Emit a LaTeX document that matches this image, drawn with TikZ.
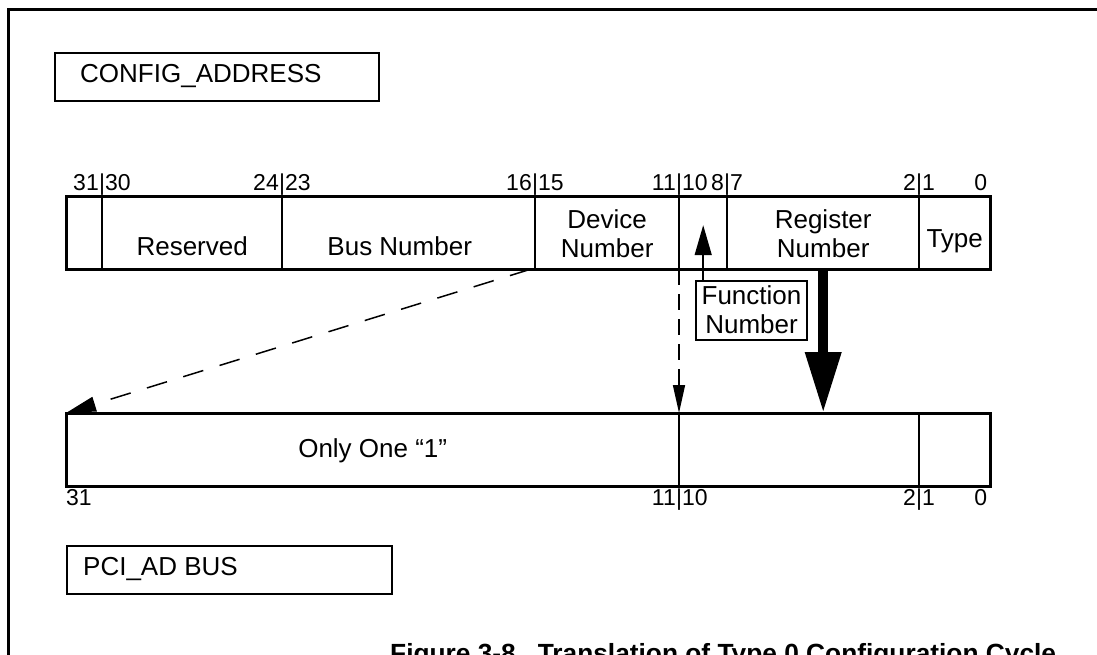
\documentclass[tikz,border=0pt]{standalone}
\usepackage{fontspec}
\setmainfont{Liberation Sans}
\usetikzlibrary{arrows.meta,calc}
\newcommand{\bsplit}[5]{%
 \node[bitn,anchor=base east] (#1l) at ([xshift=-3pt,yshift=#3]#2) {#4};
 \node[bitn,anchor=base] (#1b) at ([yshift=#3]#2) {|};
 \node[bitn,anchor=base west] (#1r) at ([xshift=3pt,yshift=#3]#2) {#5};}
\begin{document}
\begin{tikzpicture}[x=1pt,y=-1pt,
  fld/.style={rectangle, inner sep=0, minimum height=72pt, anchor=north west},
  lfld/.style={rectangle, inner sep=0, minimum height=73pt, anchor=north west},
  lbl/.style={inner sep=0, font=\fontsize{26}{28}\selectfont, anchor=base},
  bitn/.style={inner sep=0, font=\fontsize{23}{25}\selectfont},
  boxlbl/.style={draw, line width=2pt, inner sep=0, anchor=north west},
  thinarr/.style={line width=1.5pt},
  dsh/.style={line width=1.5pt}]
\useasboundingbox (0,0) rectangle (1097,655);
\clip (0,0) rectangle (1097,655);
\fill[white] (0,0) rectangle (1097,655);
% frame
\draw[line width=3pt] (8,700) -- (8,10) -- (1110,10);
% CONFIG_ADDRESS
\node[boxlbl, minimum width=324pt, minimum height=48pt] (cfgbox) at (54,52) {};
\node[lbl, anchor=base west] (cfgtxt) at (80,83) {CONFIG\_ADDRESS};
% upper register
\node[fld, minimum width=36pt] (b31) at (66,197) {};
\node[fld, minimum width=180pt] (res) at (102,197) {};
\node[fld, minimum width=253pt] (bus) at (282,197) {};
\node[fld, minimum width=144pt] (dev) at (535,197) {};
\node[fld, minimum width=48pt] (fn) at (679,197) {};
\node[fld, minimum width=192pt] (reg) at (727,197) {};
\node[fld, minimum width=71pt] (typ) at (919,197) {};
\foreach \n in {res,bus,dev,fn,reg,typ} \draw[line width=2pt] (\n.north west) -- (\n.south west);
\draw[line width=3pt] (b31.north west) rectangle (typ.south east);
\node[lbl] (tres) at ([yshift=-22pt]res.center) {Reserved};
\node[lbl] (tbus) at ([xshift=-9pt,yshift=-22pt]bus.center) {Bus Number};
\node[lbl] (tdev1) at ([yshift=5pt]dev.center) {Device};
\node[lbl] (tdev2) at ([yshift=-24pt]dev.center) {Number};
\node[lbl] (treg1) at ([yshift=5pt]reg.center) {Register};
\node[lbl] (treg2) at ([yshift=-24pt]reg.center) {Number};
\node[lbl] (ttyp) at ([yshift=-14pt]typ.center) {Type};
% bit numbers top
\bsplit{u30}{res.north west}{7pt}{31}{30}
\bsplit{u23}{bus.north west}{7pt}{24}{23}
\bsplit{u15}{dev.north west}{7pt}{16}{15}
\bsplit{u10}{fn.north west}{7pt}{11}{10}
\bsplit{u7}{reg.north west}{7pt}{8}{7}
\bsplit{u1}{typ.north west}{7pt}{2}{1}
\node[bitn, anchor=base east] (u0) at ([xshift=-3pt,yshift=7pt]typ.north east) {0};
% lower register
\node[lfld, minimum width=613pt] (lo) at (66,413) {};
\node[lfld, minimum width=240pt] (mid) at (679,413) {};
\node[lfld, minimum width=71pt] (lst) at (919,413) {};
\foreach \n in {mid,lst} \draw[line width=1.5pt] (\n.north west) -- (\n.south west);
\draw[line width=3pt] (lo.north west) rectangle (lst.south east);
\node[lbl] (tone) at ([yshift=-7.5pt]lo.center) {Only One “1”};
% bit numbers bottom
\node[bitn, anchor=base west] (d31) at ([yshift=-19pt]lo.south west) {31};
\bsplit{d10}{mid.south west}{-19pt}{11}{10}
\bsplit{d1}{lst.south west}{-19pt}{2}{1}
\node[bitn, anchor=base east] (d0) at ([xshift=-3pt,yshift=-19pt]lst.south east) {0};
% function number box
\node[boxlbl, minimum width=111pt, minimum height=59pt] (fnbox) at (695,280) {};
\node[lbl] (tfn1) at ([yshift=6pt]fnbox.center) {Function};
\node[lbl] (tfn2) at ([yshift=-22.5pt]fnbox.center) {Number};
% connectors
\draw[thinarr, -{Triangle[length=30pt,width=17pt]}] (fn.center |- fnbox.north) -- ([yshift=8pt]fn.center);
\draw[line width=10pt, -{Triangle[length=61pt,width=34pt]}] (reg.south) -- (reg.south |- lo.north);
\draw[dsh, dash pattern=on 16pt off 9pt, -{Triangle[length=28pt,width=12pt]}] (fn.south west) -- (mid.north west);
\draw[dsh, dash pattern=on 21pt off 17pt, -{Triangle[length=30pt,width=15pt]}] ([xshift=-5pt]dev.south west) -- (lo.north west);
% PCI_AD BUS
\node[boxlbl, minimum width=325pt, minimum height=48pt] (pcibox) at (66,545) {};
\node[lbl, anchor=base west] (pcitxt) at (83,575) {PCI\_AD BUS};
% caption
\node[inner sep=0, anchor=base west, font=\bfseries\fontsize{26.3}{28}\selectfont] (cap) at (390,662) {Figure 3-8.\ \ Translation of Type 0 Configuration Cycle};
\end{tikzpicture}
\end{document}
